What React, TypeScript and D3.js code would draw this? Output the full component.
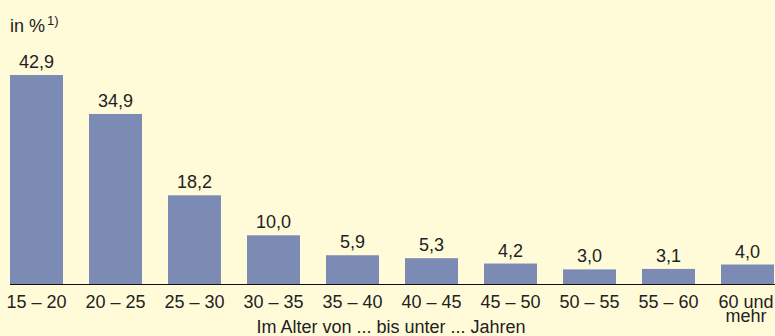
import * as d3 from "d3";

const categories = ["15 – 20", "20 – 25", "25 – 30", "30 – 35", "35 – 40", "40 – 45", "45 – 50", "50 – 55", "55 – 60", "60 und|mehr"];
const values = [42.9, 34.9, 18.2, 10.0, 5.9, 5.3, 4.2, 3.0, 3.1, 4.0];
const unitLabel = "in %";
const axisTitle = "Im Alter von ... bis unter ... Jahren";

export default function App() {
  const width = 775;
  const height = 336;
  const marginLeft = 10;
  const baseline = 284;
  const font = "'Liberation Sans', Arial, sans-serif";
  const textColor = "#222";

  // 53px bars on a 79px step
  const x = d3
    .scaleBand<string>()
    .domain(categories)
    .range([marginLeft, marginLeft + 79 * categories.length - 26])
    .paddingInner(26 / 79)
    .paddingOuter(0);
  const y = d3.scaleLinear([0, 42.9], [baseline, 75]);
  const fmt = (v: number) => d3.format(".1f")(v).replace(".", ",");

  return (
    <svg
      width={width}
      height={height}
      style={{ position: "absolute", left: 0, top: 0, background: "#FFFBD9" }}
      fontFamily={font}
    >
      <rect width={width} height={height} fill="#FFFBD9" />
      <text x={10} y={32} fontSize={18} fill={textColor}>
        {unitLabel}
        <tspan fontSize={13} dx={2} dy={-7}>1)</tspan>
      </text>
      <g>
        {values.map((v, i) => {
          const c = categories[i];
          return (
            <g key={c}>
              <rect x={x(c)} y={y(v)} width={x.bandwidth()} height={baseline - y(v)} fill="#7B8BB4" />
              <text
                x={(x(c) ?? 0) + x.bandwidth() / 2}
                y={y(v) - 7}
                textAnchor="middle"
                fontSize={18}
                fill={textColor}
              >
                {fmt(v)}
              </text>
            </g>
          );
        })}
      </g>
      <line x1={marginLeft} x2={width} y1={baseline + 0.5} y2={baseline + 0.5} stroke="#111" strokeWidth={1.2} />
      <g fontSize={18} fill={textColor} textAnchor="middle">
        {categories.map((c) => {
          const cx = Math.min((x(c) ?? 0) + x.bandwidth() / 2, 746);
          return (
            <text key={c} x={cx} y={308}>
              {c.split("|").map((part, j) => (
                <tspan key={j} x={cx} dy={j === 0 ? 0 : 14}>
                  {part}
                </tspan>
              ))}
            </text>
          );
        })}
      </g>
      <text x={391} y={333} textAnchor="middle" fontSize={18} fill={textColor}>
        {axisTitle}
      </text>
    </svg>
  );
}
